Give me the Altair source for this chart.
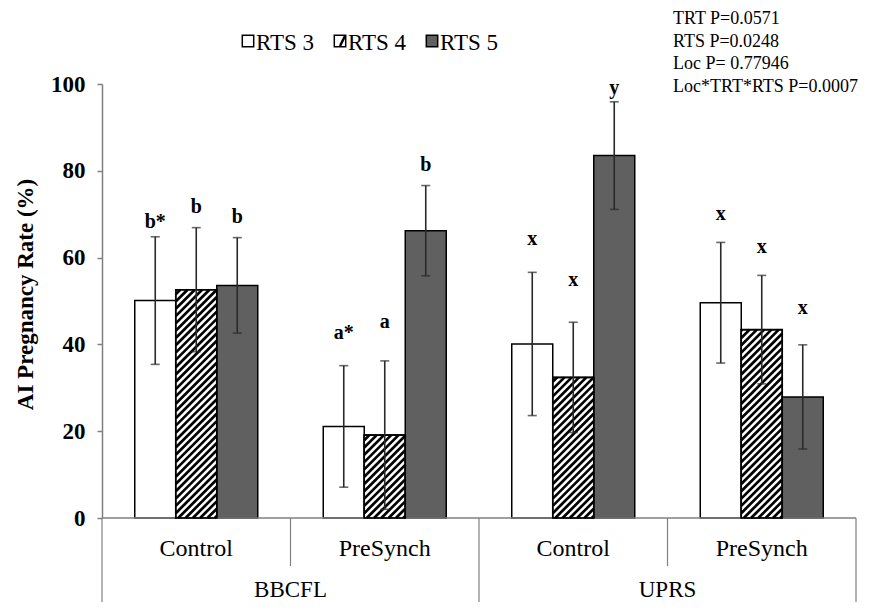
import altair as alt
import pandas as pd

# ---------------- data ----------------
locations = ["BBCFL", "UPRS"]
treatments = ["Control", "PreSynch", "Control", "PreSynch"]
series = ["RTS 3", "RTS 4", "RTS 5"]
rts3_rate = [50.1, 21.1, 40.1, 49.6]
rts4_rate = [52.6, 19.1, 32.4, 43.4]
rts5_rate = [53.6, 66.2, 83.5, 27.9]
rts3_err = [14.7, 14.0, 16.5, 13.9]
rts4_err = [14.3, 17.1, 12.7, 12.5]
rts5_err = [11.0, 10.4, 12.4, 12.0]
rts3_letters = ["b*", "a*", "x", "x"]
rts4_letters = ["b", "a", "x", "x"]
rts5_letters = ["b", "b", "y", "x"]
rts3_letter_at = [68.2, 42.6, 64.3, 70.0]
rts4_letter_at = [71.7, 45.2, 54.8, 62.4]
rts5_letter_at = [69.4, 81.3, 99.0, 48.4]
stats_lines = ["TRT P=0.0571", "RTS P=0.0248", "Loc P= 0.77946", "Loc*TRT*RTS P=0.0007"]
y_ticks = [0, 20, 40, 60, 80, 100]

# ---------------- layout / style ----------------
W, H = 754, 434
N_GROUPS = len(treatments)
BAR_W = 41 / (W / N_GROUPS)          # bar width in group units
FILLS = ["#ffffff", "#ffffff", "#606060"]
SERIF = "Liberation Serif"
AXIS_GRAY = "#808080"

rates = [rts3_rate, rts4_rate, rts5_rate]
errs = [rts3_err, rts4_err, rts5_err]
letters = [rts3_letters, rts4_letters, rts5_letters]
letter_at = [rts3_letter_at, rts4_letter_at, rts5_letter_at]

rows = []
for g in range(N_GROUPS):
    for s in range(len(series)):
        x0 = g + 0.5 + (s - 1.5) * BAR_W
        r, e = rates[s][g], errs[s][g]
        rows.append(dict(series=series[s], group=g, x0=x0, x1=x0 + BAR_W,
                         xc=x0 + BAR_W / 2, rate=r, zero=0.0, lo=r - e, hi=r + e,
                         letter=letters[s][g], letter_y=letter_at[s][g],
                         fill=FILLS[s]))
bars = pd.DataFrame(rows)

# hatch segments ("/" at 45 degrees in pixel space) clipped to each RTS 4 bar
pxu, pyu = W / N_GROUPS, H / 100.0
step = 7.3
seg = []
for _, b in bars[bars.series == "RTS 4"].iterrows():
    a = b.x0 * pxu
    w = BAR_W * pxu
    hh = b.rate * pyu
    c = -w + 2.0
    while c < hh:
        u0, u1 = max(0.0, -c), min(w, hh - c)
        if u1 > u0:
            seg.append(dict(hx=(a + u0) / pxu, hy=(u0 + c) / pyu,
                            hx2=(a + u1) / pxu, hy2=(u1 + c) / pyu))
        c += step
hatch = pd.DataFrame(seg)

cats = pd.DataFrame({"label": treatments, "xc": [g + 0.5 for g in range(N_GROUPS)]})
locs = pd.DataFrame({"label": locations, "xc": [1.0, 3.0]})
long_sep = pd.DataFrame({"x": [0.0, 2.0, 4.0]})
short_sep = pd.DataFrame({"x": [1.0, 3.0]})
baseline = pd.DataFrame({"x": [0.0], "x2": [4.0], "y": [0.0]})

leg = pd.DataFrame({"label": series, "fill": FILLS,
                    "lx": [146 + 92 * i for i in range(3)]})
leg["tx"] = leg["lx"] + 8
stats = pd.DataFrame({"label": stats_lines,
                      "ly": [-65 + 22.7 * i for i in range(len(stats_lines))]})

xs = alt.Scale(domain=[0, N_GROUPS], nice=False, zero=False)
ys = alt.Scale(domain=[0, 100], nice=False, zero=False)
YAXIS = alt.Axis(values=y_ticks, grid=False, domainColor=AXIS_GRAY,
                 domainWidth=1.5, tickColor=AXIS_GRAY, tickWidth=1.5,
                 tickSize=5, labelPadding=12, labelFont=SERIF,
                 labelFontSize=23, labelFontWeight="bold", labelColor="black",
                 title="AI Pregnancy Rate (%)", titleFont=SERIF,
                 titleFontSize=23, titleFontWeight="bold",
                 titleColor="black", titleX=-77, titleY=210,
                 titleBaseline="middle")


def Y(field):
    return alt.Y(field, scale=ys, axis=YAXIS)


def X(field):
    return alt.X(field, scale=xs, axis=None)


base_rule = alt.Chart(baseline).mark_rule(color=AXIS_GRAY, strokeWidth=1.5).encode(
    x=X("x:Q"), x2="x2:Q", y=Y("y:Q"))

seps_long = alt.Chart(long_sep).mark_rule(color=AXIS_GRAY, strokeWidth=1.2).encode(
    x=X("x:Q"), y=alt.value(H), y2=alt.value(H + 95))
seps_short = alt.Chart(short_sep).mark_rule(color=AXIS_GRAY, strokeWidth=1.2).encode(
    x=X("x:Q"), y=alt.value(H), y2=alt.value(H + 48))

bar_fill = alt.Chart(bars).mark_rect(stroke="black", strokeWidth=1.5).encode(
    x=X("x0:Q"), x2="x1:Q", y=Y("rate:Q"), y2="zero:Q",
    fill=alt.Fill("fill:N", scale=None))

hatch_lines = alt.Chart(hatch).mark_rule(color="black", strokeWidth=2.7).encode(
    x=X("hx:Q"), y=Y("hy:Q"), x2="hx2:Q", y2="hy2:Q")

bar_outline = alt.Chart(bars).transform_filter(alt.datum.series == "RTS 4").mark_rect(
    fillOpacity=0, stroke="black", strokeWidth=1.6).encode(
    x=X("x0:Q"), x2="x1:Q", y=Y("rate:Q"), y2="zero:Q")

err_rule = alt.Chart(bars).mark_rule(color="#2a2a2a", strokeWidth=1.6).encode(
    x=X("xc:Q"), y=Y("lo:Q"), y2="hi:Q")
err_lo = alt.Chart(bars).mark_tick(color="#2a2a2a", orient="horizontal", size=9,
                                   thickness=1.6).encode(x=X("xc:Q"), y=Y("lo:Q"))
err_hi = alt.Chart(bars).mark_tick(color="#2a2a2a", orient="horizontal", size=9,
                                   thickness=1.6).encode(x=X("xc:Q"), y=Y("hi:Q"))

letter_text = alt.Chart(bars).mark_text(font=SERIF, fontSize=20, fontWeight="bold",
                                        baseline="middle", color="black").encode(
    x=X("xc:Q"), y=Y("letter_y:Q"), text="letter:N")

cat_text = alt.Chart(cats).mark_text(font=SERIF, fontSize=24, baseline="middle",
                                     color="black").encode(
    x=X("xc:Q"), y=alt.value(H + 31), text="label:N")
loc_text = alt.Chart(locs).mark_text(font=SERIF, fontSize=23, baseline="middle",
                                     color="black").encode(
    x=X("xc:Q"), y=alt.value(H + 72), text="label:N")

leg_sq = alt.Chart(leg).mark_square(size=130, stroke="black", strokeWidth=1.5,
                                    opacity=1).encode(
    x=alt.X("lx:Q", scale=None), y=alt.value(-43), fill=alt.Fill("fill:N", scale=None))
leg_slash = alt.Chart(leg).transform_filter(alt.datum.label == "RTS 4").mark_rule(
    color="black", strokeWidth=2.5).encode(
    x=alt.X("lx:Q", scale=None), y=alt.value(-38),
    x2=alt.value(float(leg.lx[1]) + 5), y2=alt.value(-48))
leg_text = alt.Chart(leg).mark_text(font=SERIF, fontSize=23, align="left",
                                    baseline="middle", color="black").encode(
    x=alt.X("tx:Q", scale=None), y=alt.value(-41), text="label:N")

stats_text = alt.Chart(stats).mark_text(font=SERIF, fontSize=18, align="left",
                                        baseline="middle", color="black").encode(
    x=alt.value(571), y=alt.Y("ly:Q", scale=None), text="label:N")

chart = alt.layer(
    bar_fill, base_rule, seps_long, seps_short, hatch_lines, bar_outline,
    err_rule, err_lo, err_hi, letter_text, cat_text, loc_text,
    leg_sq, leg_slash, leg_text, stats_text
).properties(
    width=W, height=H,
    autosize=alt.AutoSizeParams(type="none"),
    padding={"left": 94, "top": 76, "right": 6, "bottom": 84},
    background="white",
).configure_view(stroke=None)

chart.save("out.html", embed_options={"renderer": "svg", "actions": False})
